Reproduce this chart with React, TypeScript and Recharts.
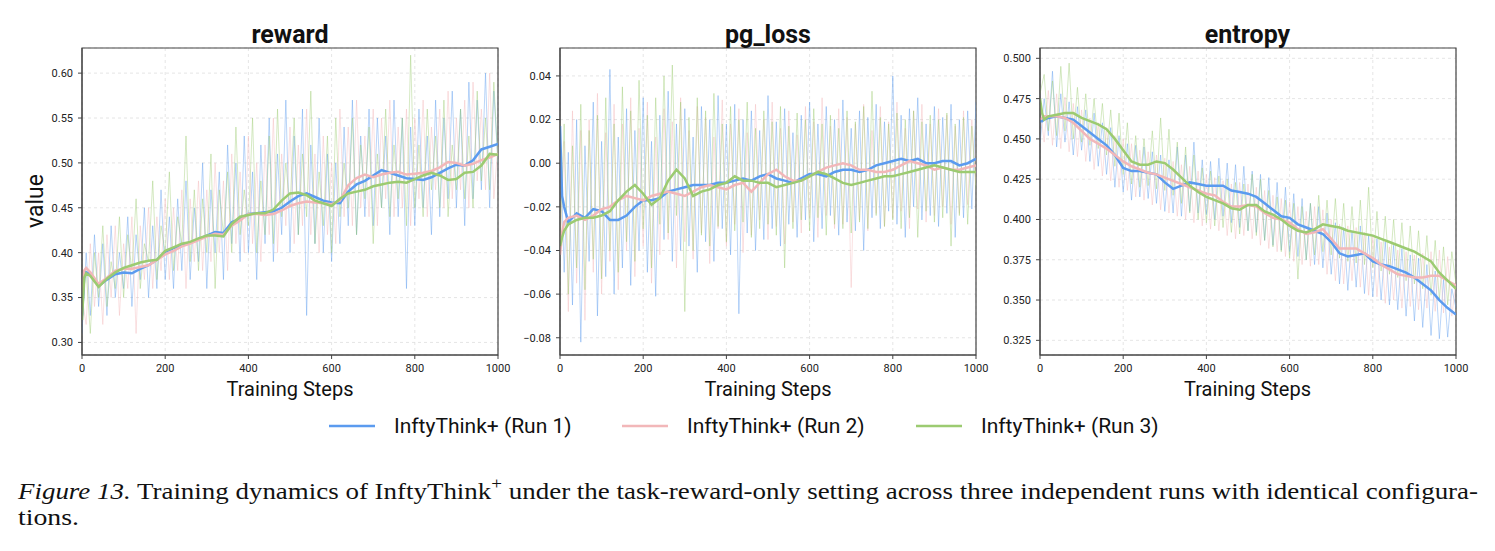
import React from "react";
import { LineChart, Line, XAxis, YAxis, CartesianGrid, ReferenceArea } from "recharts";

// ---- colours ----
const BLUE = "#5b9bef";
const PINK = "#f2b7b9";
const GREEN = "#9ccb71";

// ---- x positions ----
const RAW_STEPS = Array.from({ length: 101 }, (_, i) => i * 10);
const SMOOTH_STEPS = [
  0, 5, 10, 20, 40, 60, 80, 100, 120, 140, 160, 180, 200, 220, 240, 260, 280, 300, 320, 340, 360, 380,
  400, 420, 440, 460, 480, 500, 520, 540, 560, 580, 600, 620, 640, 660, 680, 700, 720, 740, 760, 780,
  800, 820, 840, 860, 880, 900, 920, 940, 960, 980, 1000,
];
const X_TICKS = [0, 200, 400, 600, 800, 1000];
const RUN_NAMES = ["InftyThink+ (Run 1)", "InftyThink+ (Run 2)", "InftyThink+ (Run 3)"];

// ---- reward ----
const rewardRaw1 = [
  0.31, 0.40, 0.33, 0.42, 0.34, 0.41, 0.33, 0.43, 0.35, 0.40,
  0.36, 0.44, 0.34, 0.42, 0.37, 0.45, 0.35, 0.43, 0.36, 0.47,
  0.37, 0.44, 0.36, 0.46, 0.38, 0.48, 0.37, 0.45, 0.39, 0.50,
  0.36, 0.47, 0.40, 0.49, 0.37, 0.52, 0.41, 0.50, 0.39, 0.53,
  0.40, 0.49, 0.37, 0.52, 0.41, 0.55, 0.39, 0.51, 0.42, 0.57,
  0.40, 0.53, 0.42, 0.56, 0.33, 0.52, 0.41, 0.55, 0.40, 0.51,
  0.39, 0.50, 0.41, 0.54, 0.43, 0.57, 0.42, 0.53, 0.44, 0.56,
  0.43, 0.55, 0.45, 0.53, 0.42, 0.57, 0.44, 0.55, 0.36, 0.54,
  0.43, 0.56, 0.45, 0.53, 0.42, 0.57, 0.44, 0.55, 0.46, 0.58,
  0.45, 0.56, 0.43, 0.59, 0.46, 0.57, 0.47, 0.60, 0.45, 0.58, 0.50,
];
const rewardRaw2 = [
  0.35, 0.32, 0.41, 0.34, 0.40, 0.32, 0.42, 0.35, 0.43, 0.33,
  0.41, 0.36, 0.44, 0.31, 0.43, 0.37, 0.45, 0.36, 0.44, 0.38,
  0.46, 0.37, 0.45, 0.38, 0.47, 0.36, 0.46, 0.39, 0.48, 0.38,
  0.47, 0.39, 0.50, 0.40, 0.48, 0.38, 0.51, 0.41, 0.49, 0.40,
  0.53, 0.41, 0.50, 0.39, 0.52, 0.42, 0.55, 0.40, 0.51, 0.43,
  0.54, 0.41, 0.52, 0.43, 0.56, 0.42, 0.51, 0.40, 0.53, 0.42,
  0.50, 0.41, 0.56, 0.44, 0.54, 0.43, 0.57, 0.45, 0.53, 0.44,
  0.56, 0.43, 0.55, 0.46, 0.57, 0.44, 0.54, 0.45, 0.56, 0.43,
  0.55, 0.46, 0.57, 0.44, 0.54, 0.47, 0.56, 0.45, 0.58, 0.46,
  0.55, 0.47, 0.57, 0.45, 0.59, 0.48, 0.56, 0.47, 0.60, 0.46, 0.52,
];
const rewardRaw3 = [
  0.33, 0.38, 0.31, 0.40, 0.35, 0.43, 0.34, 0.39, 0.36, 0.44,
  0.35, 0.42, 0.38, 0.46, 0.36, 0.41, 0.39, 0.48, 0.37, 0.43,
  0.40, 0.49, 0.38, 0.44, 0.41, 0.53, 0.39, 0.47, 0.38, 0.46,
  0.40, 0.51, 0.36, 0.47, 0.42, 0.49, 0.40, 0.54, 0.42, 0.47,
  0.43, 0.55, 0.40, 0.48, 0.42, 0.53, 0.41, 0.56, 0.44, 0.50,
  0.45, 0.55, 0.42, 0.51, 0.44, 0.58, 0.41, 0.49, 0.43, 0.53,
  0.40, 0.55, 0.44, 0.50, 0.45, 0.55, 0.42, 0.52, 0.46, 0.54,
  0.41, 0.51, 0.45, 0.56, 0.44, 0.52, 0.46, 0.55, 0.43, 0.62,
  0.45, 0.52, 0.44, 0.56, 0.47, 0.53, 0.45, 0.57, 0.44, 0.52,
  0.47, 0.56, 0.46, 0.53, 0.45, 0.58, 0.48, 0.55, 0.47, 0.59, 0.50,
];
const rewardSmooth1 = [
  0.330, 0.372, 0.378, 0.376, 0.363, 0.370, 0.376, 0.378, 0.377, 0.382, 0.386, 0.392, 0.401, 0.405,
  0.408, 0.411, 0.415, 0.419, 0.423, 0.422, 0.434, 0.438, 0.443, 0.444, 0.445, 0.446, 0.450, 0.457,
  0.463, 0.466, 0.462, 0.458, 0.456, 0.455, 0.468, 0.476, 0.480, 0.486, 0.492, 0.489, 0.486, 0.483,
  0.482, 0.481, 0.484, 0.489, 0.494, 0.498, 0.497, 0.503, 0.515, 0.518, 0.521,
];
const rewardSmooth2 = [
  0.340, 0.380, 0.383, 0.378, 0.365, 0.372, 0.380, 0.382, 0.382, 0.384, 0.386, 0.392, 0.398, 0.402,
  0.407, 0.410, 0.414, 0.418, 0.421, 0.420, 0.430, 0.436, 0.443, 0.443, 0.442, 0.443, 0.447, 0.452,
  0.455, 0.457, 0.456, 0.455, 0.454, 0.458, 0.475, 0.483, 0.487, 0.484, 0.487, 0.489, 0.490, 0.487,
  0.488, 0.489, 0.491, 0.495, 0.501, 0.500, 0.497, 0.499, 0.503, 0.506, 0.510,
];
const rewardSmooth3 = [
  0.325, 0.372, 0.377, 0.374, 0.362, 0.371, 0.378, 0.383, 0.386, 0.389, 0.391, 0.392, 0.402, 0.406,
  0.410, 0.412, 0.416, 0.419, 0.419, 0.418, 0.432, 0.440, 0.442, 0.444, 0.444, 0.448, 0.458, 0.466,
  0.467, 0.464, 0.458, 0.455, 0.452, 0.460, 0.466, 0.468, 0.470, 0.474, 0.476, 0.478, 0.479, 0.478,
  0.482, 0.486, 0.489, 0.486, 0.481, 0.482, 0.489, 0.490, 0.497, 0.510, 0.509,
];
const rewardTicks = [0.3, 0.35, 0.4, 0.45, 0.5, 0.55, 0.6];

// ---- pg_loss ----
const pgRaw1 = [
  0.016, -0.050, 0.005, -0.065, 0.020, -0.082, 0.008, -0.045, 0.028, -0.070,
  0.010, -0.052, 0.043, -0.060, 0.012, -0.048, 0.025, -0.056, 0.015, -0.040,
  0.030, -0.050, 0.010, -0.061, 0.022, -0.035, 0.033, -0.045, 0.018, -0.040,
  0.025, -0.038, 0.012, -0.050, 0.026, -0.036, 0.020, -0.045, 0.031, -0.030,
  0.018, -0.042, 0.027, -0.069, 0.020, -0.032, 0.024, -0.040, 0.015, -0.035,
  0.031, -0.030, 0.019, -0.038, 0.025, -0.028, 0.014, -0.034, 0.022, -0.026,
  0.028, -0.036, 0.018, -0.030, 0.026, -0.024, 0.020, -0.033, 0.029, -0.027,
  0.016, -0.031, 0.024, -0.040, 0.021, -0.025, 0.027, -0.030, 0.019, -0.022,
  0.040, -0.028, 0.022, -0.034, 0.025, -0.020, 0.030, -0.026, 0.018, -0.024,
  0.026, -0.029, 0.021, -0.023, 0.027, -0.034, 0.020, -0.025, 0.024, -0.021, 0.028,
];
const pgRaw2 = [
  -0.042, 0.010, -0.068, 0.024, -0.055, 0.015, -0.072, 0.020, -0.050, 0.032,
  -0.060, 0.014, -0.045, 0.027, -0.058, 0.018, -0.040, 0.030, -0.052, 0.016,
  -0.038, 0.028, -0.055, 0.012, -0.042, 0.025, -0.035, 0.019, -0.048, 0.030,
  -0.036, 0.015, -0.044, 0.026, -0.032, 0.021, -0.046, 0.012, -0.030, 0.029,
  -0.038, 0.018, -0.028, 0.025, -0.041, 0.014, -0.033, 0.027, -0.026, 0.020,
  -0.035, 0.028, -0.029, 0.016, -0.037, 0.024, -0.027, 0.013, -0.032, 0.026,
  -0.025, 0.019, -0.034, 0.030, -0.024, 0.017, -0.030, 0.025, -0.028, 0.021,
  -0.057, 0.018, -0.026, 0.027, -0.031, 0.015, -0.023, 0.026, -0.029, 0.019,
  -0.025, 0.028, -0.022, 0.016, -0.030, 0.024, -0.021, 0.027, -0.027, 0.018,
  -0.024, 0.025, -0.020, 0.022, -0.028, 0.017, -0.023, 0.024, -0.019, 0.020, -0.010,
];
const pgRaw3 = [
  -0.038, 0.018, -0.060, 0.008, -0.048, 0.027, -0.058, 0.015, -0.044, 0.022,
  -0.053, 0.030, -0.040, 0.018, -0.050, 0.035, -0.036, 0.024, -0.045, 0.038,
  -0.030, 0.022, -0.048, 0.030, -0.028, 0.040, -0.032, 0.045, -0.024, 0.028,
  -0.068, 0.021, -0.040, 0.030, -0.033, 0.024, -0.038, 0.032, -0.029, 0.018,
  -0.036, 0.026, -0.031, 0.020, -0.027, 0.028, -0.034, 0.016, -0.030, 0.024,
  -0.028, 0.019, -0.033, 0.026, -0.048, 0.017, -0.030, 0.023, -0.026, 0.020,
  -0.031, 0.025, -0.025, 0.018, -0.033, 0.022, -0.028, 0.016, -0.030, 0.024,
  -0.032, 0.019, -0.027, 0.026, -0.030, 0.033, -0.024, 0.021, -0.029, 0.018,
  -0.026, 0.023, -0.030, 0.020, -0.025, 0.024, -0.034, 0.019, -0.022, 0.022,
  -0.027, 0.020, -0.025, 0.023, -0.038, 0.018, -0.024, 0.021, -0.028, 0.017, -0.012,
];
const pgSmooth1 = [
  0.017, -0.015, -0.020, -0.027, -0.023, -0.025, -0.021, -0.022, -0.026, -0.026, -0.024, -0.020, -0.017,
  -0.017, -0.016, -0.013, -0.012, -0.011, -0.010, -0.010, -0.010, -0.009, -0.009, -0.008, -0.007, -0.008,
  -0.006, -0.005, -0.007, -0.008, -0.009, -0.007, -0.005, -0.005, -0.006, -0.004, -0.003, -0.003, -0.004,
  -0.003, -0.001, 0.000, 0.001, 0.002, 0.001, 0.002, 0.000, 0.000, 0.001, 0.001, -0.001, 0.000, 0.002,
];
const pgSmooth2 = [
  -0.042, -0.032, -0.027, -0.025, -0.024, -0.026, -0.024, -0.021, -0.020, -0.017, -0.015, -0.016, -0.017,
  -0.015, -0.014, -0.013, -0.014, -0.015, -0.013, -0.011, -0.010, -0.011, -0.012, -0.010, -0.009, -0.013,
  -0.009, -0.005, -0.003, -0.006, -0.008, -0.008, -0.006, -0.004, -0.002, -0.001, 0.000, -0.001, -0.003,
  -0.003, -0.004, -0.004, -0.003, -0.001, 0.001, 0.000, -0.001, -0.003, -0.002, -0.003, -0.003, -0.002, -0.001,
];
const pgSmooth3 = [
  -0.038, -0.034, -0.031, -0.028, -0.026, -0.025, -0.025, -0.024, -0.022, -0.017, -0.013, -0.010, -0.014,
  -0.019, -0.016, -0.008, -0.003, -0.007, -0.015, -0.013, -0.012, -0.010, -0.009, -0.006, -0.008, -0.008,
  -0.009, -0.009, -0.011, -0.010, -0.009, -0.008, -0.006, -0.004, -0.005, -0.007, -0.009, -0.010, -0.009,
  -0.008, -0.007, -0.006, -0.006, -0.005, -0.004, -0.003, -0.002, -0.001, -0.002, -0.003, -0.004, -0.004, -0.004,
];
const pgTicks = [-0.08, -0.06, -0.04, -0.02, 0, 0.02, 0.04];

// ---- entropy ----
const entRaw1 = [
  0.447, 0.475, 0.452, 0.492, 0.445, 0.478, 0.448, 0.473, 0.440, 0.470,
  0.443, 0.468, 0.436, 0.466, 0.433, 0.460, 0.428, 0.457, 0.420, 0.452,
  0.417, 0.447, 0.412, 0.446, 0.414, 0.445, 0.413, 0.442, 0.410, 0.440,
  0.405, 0.437, 0.404, 0.445, 0.402, 0.440, 0.405, 0.448, 0.404, 0.437,
  0.403, 0.436, 0.400, 0.438, 0.402, 0.435, 0.398, 0.434, 0.395, 0.433,
  0.393, 0.430, 0.392, 0.428, 0.387, 0.426, 0.384, 0.423, 0.381, 0.420,
  0.380, 0.416, 0.377, 0.413, 0.375, 0.410, 0.372, 0.408, 0.370, 0.404,
  0.366, 0.398, 0.360, 0.395, 0.356, 0.393, 0.358, 0.396, 0.354, 0.390,
  0.352, 0.388, 0.350, 0.386, 0.347, 0.384, 0.344, 0.382, 0.340, 0.378,
  0.337, 0.376, 0.333, 0.372, 0.328, 0.368, 0.326, 0.363, 0.327, 0.357, 0.345,
];
const entRaw2 = [
  0.470, 0.448, 0.480, 0.446, 0.478, 0.444, 0.476, 0.442, 0.472, 0.439,
  0.468, 0.436, 0.463, 0.431, 0.460, 0.427, 0.457, 0.424, 0.452, 0.420,
  0.450, 0.418, 0.447, 0.414, 0.443, 0.412, 0.442, 0.409, 0.440, 0.406,
  0.438, 0.404, 0.436, 0.402, 0.434, 0.400, 0.433, 0.398, 0.430, 0.396,
  0.428, 0.394, 0.426, 0.393, 0.424, 0.390, 0.422, 0.388, 0.423, 0.390,
  0.422, 0.388, 0.420, 0.384, 0.418, 0.382, 0.415, 0.380, 0.413, 0.377,
  0.411, 0.374, 0.408, 0.372, 0.405, 0.371, 0.408, 0.372, 0.406, 0.366,
  0.400, 0.362, 0.397, 0.360, 0.396, 0.362, 0.395, 0.358, 0.392, 0.353,
  0.390, 0.352, 0.386, 0.348, 0.383, 0.350, 0.381, 0.345, 0.380, 0.346,
  0.378, 0.344, 0.379, 0.345, 0.380, 0.343, 0.381, 0.342, 0.377, 0.340, 0.362,
];
const entRaw3 = [
  0.478, 0.490, 0.455, 0.486, 0.452, 0.495, 0.455, 0.497, 0.450, 0.482,
  0.448, 0.478, 0.446, 0.475, 0.444, 0.472, 0.440, 0.468, 0.433, 0.466,
  0.428, 0.460, 0.422, 0.452, 0.420, 0.450, 0.421, 0.455, 0.419, 0.463,
  0.418, 0.456, 0.415, 0.448, 0.410, 0.445, 0.404, 0.440, 0.400, 0.432,
  0.398, 0.430, 0.396, 0.427, 0.395, 0.425, 0.392, 0.423, 0.391, 0.422,
  0.393, 0.428, 0.390, 0.425, 0.387, 0.418, 0.383, 0.414, 0.380, 0.412,
  0.376, 0.410, 0.363, 0.408, 0.375, 0.410, 0.378, 0.415, 0.380, 0.412,
  0.378, 0.413, 0.376, 0.410, 0.374, 0.408, 0.373, 0.412, 0.372, 0.420,
  0.370, 0.405, 0.368, 0.402, 0.366, 0.400, 0.364, 0.398, 0.362, 0.396,
  0.360, 0.393, 0.357, 0.390, 0.353, 0.387, 0.350, 0.383, 0.347, 0.380, 0.360,
];
const entSmooth1 = [
  0.461, 0.461, 0.462, 0.463, 0.464, 0.463, 0.462, 0.458, 0.454, 0.450, 0.446, 0.440, 0.432, 0.430,
  0.430, 0.429, 0.428, 0.423, 0.419, 0.421, 0.423, 0.422, 0.421, 0.421, 0.421, 0.418, 0.417, 0.416,
  0.414, 0.410, 0.406, 0.402, 0.401, 0.397, 0.395, 0.393, 0.391, 0.386, 0.379, 0.377, 0.378, 0.379,
  0.374, 0.372, 0.371, 0.369, 0.367, 0.364, 0.360, 0.356, 0.350, 0.345, 0.341,
];
const entSmooth2 = [
  0.462, 0.463, 0.464, 0.464, 0.464, 0.463, 0.460, 0.455, 0.450, 0.447, 0.444, 0.440, 0.436, 0.433,
  0.431, 0.429, 0.428, 0.426, 0.424, 0.422, 0.420, 0.418, 0.416, 0.415, 0.411, 0.408, 0.408, 0.409,
  0.408, 0.404, 0.401, 0.400, 0.398, 0.394, 0.391, 0.392, 0.394, 0.388, 0.382, 0.382, 0.382, 0.379,
  0.376, 0.372, 0.369, 0.366, 0.365, 0.364, 0.364, 0.365, 0.365, 0.362, 0.359,
];
const entSmooth3 = [
  0.475, 0.466, 0.462, 0.464, 0.465, 0.466, 0.466, 0.463, 0.461, 0.459, 0.456, 0.450, 0.443, 0.436,
  0.434, 0.434, 0.436, 0.435, 0.431, 0.426, 0.421, 0.417, 0.414, 0.412, 0.410, 0.407, 0.406, 0.409,
  0.409, 0.405, 0.403, 0.400, 0.396, 0.393, 0.392, 0.394, 0.397, 0.396, 0.395, 0.393, 0.392, 0.391,
  0.390, 0.388, 0.386, 0.384, 0.382, 0.380, 0.377, 0.374, 0.367, 0.362, 0.357,
];
const entTicks = [0.325, 0.35, 0.375, 0.4, 0.425, 0.45, 0.475, 0.5];

type Row = { step: number; r1: number; r2: number; r3: number };

function rows(steps: number[], a: number[], b: number[], c: number[]): Row[] {
  return steps.map((s, i) => ({ step: s, r1: a[i], r2: b[i], r3: c[i] }));
}

const FONT = "Roboto, 'Noto Sans', 'DejaVu Sans', sans-serif";
const SERIF = "'Liberation Serif', 'Times New Roman', Times, serif";
const AXIS = "#444";

type PanelProps = {
  left: number;
  raw: Row[];
  smooth: Row[];
  domain: [number, number];
  ticks: number[];
  fmt: (v: number) => string;
};

function Panel({ left, raw, smooth, domain, ticks, fmt }: PanelProps) {
  const colors = [BLUE, PINK, GREEN];
  const keys = ["r1", "r2", "r3"];
  return (
    <div style={{ position: "absolute", left, top: 0 }}>
      <LineChart width={520} height={420} data={raw} margin={{ top: 48, right: 22, bottom: 35, left: 32 }}>
        <CartesianGrid stroke="#dedede" strokeDasharray="3 3" strokeWidth={0.8} />
        <XAxis
          dataKey="step"
          type="number"
          domain={[0, 1000]}
          ticks={X_TICKS}
          height={30}
          tickSize={4}
          tickMargin={5}
          stroke={AXIS}
          tick={{ fontSize: 11, fill: "#222", fontFamily: FONT }}
          allowDataOverflow
        />
        <YAxis
          type="number"
          domain={domain}
          ticks={ticks}
          width={50}
          tickSize={4}
          tickMargin={5}
          stroke={AXIS}
          tickFormatter={fmt}
          tick={{ fontSize: 11, fill: "#222", fontFamily: FONT }}
          allowDataOverflow
        />
        {keys.map((k, i) => (
          <Line
            key={"raw" + k}
            dataKey={k}
            stroke={colors[i]}
            strokeOpacity={0.42}
            strokeWidth={1}
            dot={false}
            activeDot={false}
            isAnimationActive={false}
            type="linear"
          />
        ))}
        {keys.map((k, i) => (
          <Line
            key={"sm" + k}
            data={smooth}
            dataKey={k}
            stroke={colors[i]}
            strokeWidth={2.5}
            dot={false}
            activeDot={false}
            isAnimationActive={false}
            type="linear"
          />
        ))}
        <ReferenceArea x1={0} x2={1000} y1={domain[0]} y2={domain[1]} fill="none" stroke={AXIS} strokeWidth={1.2} />
      </LineChart>
    </div>
  );
}

const minus = (s: string) => s.replace("-", "\u2212");

export default function App() {
  const panels = [
    { left: 0, title: "reward", raw: rows(RAW_STEPS, rewardRaw1, rewardRaw2, rewardRaw3), smooth: rows(SMOOTH_STEPS, rewardSmooth1, rewardSmooth2, rewardSmooth3), domain: [0.286, 0.628] as [number, number], ticks: rewardTicks, fmt: (v: number) => v.toFixed(2) },
    { left: 478, title: "pg_loss", raw: rows(RAW_STEPS, pgRaw1, pgRaw2, pgRaw3), smooth: rows(SMOOTH_STEPS, pgSmooth1, pgSmooth2, pgSmooth3), domain: [-0.0879, 0.0528] as [number, number], ticks: pgTicks, fmt: (v: number) => minus(v.toFixed(2)) },
    { left: 957.5, title: "entropy", raw: rows(RAW_STEPS, entRaw1, entRaw2, entRaw3), smooth: rows(SMOOTH_STEPS, entSmooth1, entSmooth2, entSmooth3), domain: [0.3159, 0.5064] as [number, number], ticks: entTicks, fmt: (v: number) => v.toFixed(3) },
  ];
  const legendX = [329, 622, 916];
  const legendColors = [BLUE, PINK, GREEN];
  return (
    <div style={{ position: "absolute", left: 0, top: 0, width: 1495, height: 551, background: "#fff" }}>
      {panels.map((p) => (
        <Panel key={p.title} left={p.left} raw={p.raw} smooth={p.smooth} domain={p.domain} ticks={p.ticks} fmt={p.fmt} />
      ))}
      <svg width={1495} height={551} style={{ position: "absolute", left: 0, top: 0, pointerEvents: "none" }}>
        {panels.map((p) => (
          <g key={p.title} fontFamily={FONT}>
            <text x={p.left + 290} y={43} textAnchor="middle" fontSize={25} fontWeight={700} fill="#111">
              {p.title}
            </text>
            <text x={p.left + 290} y={396} textAnchor="middle" fontSize={20} fill="#111">
              Training Steps
            </text>
          </g>
        ))}
        <text x={43} y={201} transform="rotate(-90 43 201)" textAnchor="middle" fontSize={23} fontFamily={FONT} fill="#111">
          value
        </text>
        {RUN_NAMES.map((name, i) => (
          <g key={name}>
            <line x1={legendX[i]} x2={legendX[i] + 46} y1={426} y2={426} stroke={legendColors[i]} strokeWidth={2.6} />
            <text x={legendX[i] + 65} y={433} fontSize={21} fontFamily={FONT} fill="#111">
              {name}
            </text>
          </g>
        ))}
        <g fill="#111" fontSize={24} style={{ fontFamily: SERIF }}>
          <text x={18} y={499} textLength={1460} lengthAdjust="spacingAndGlyphs" style={{ fontFamily: SERIF }}>
            <tspan fontStyle="italic">Figure 13.</tspan> Training dynamics of InftyThink
            <tspan dy={-10} fontSize={17}>+</tspan>
            <tspan dy={10}> under the task-reward-only setting across three independent runs with identical configura-</tspan>
          </text>
          <text x={18} y={525} textLength={61} lengthAdjust="spacingAndGlyphs" style={{ fontFamily: SERIF }}>
            tions.
          </text>
        </g>
      </svg>
    </div>
  );
}
